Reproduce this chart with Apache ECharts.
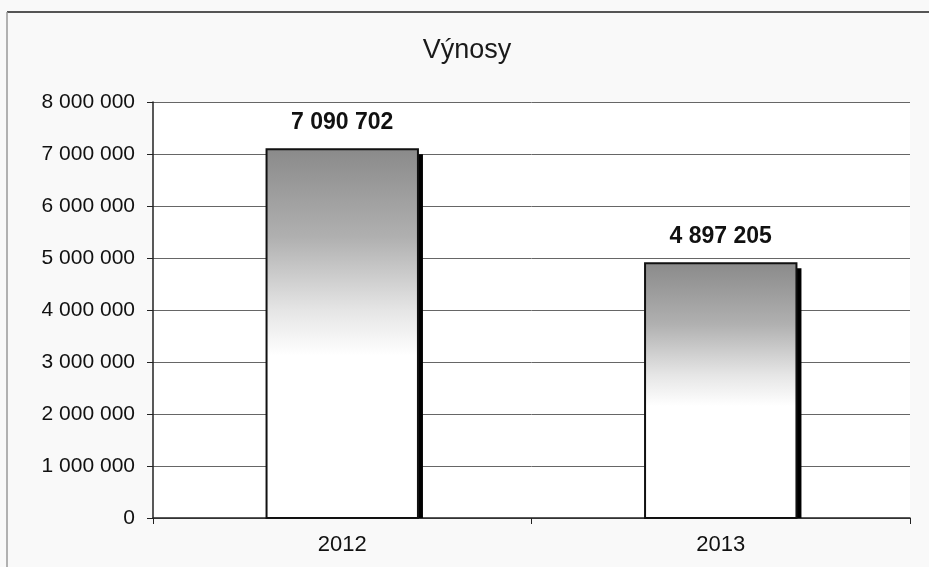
<!DOCTYPE html>
<html><head><meta charset="utf-8">
<script src="https://cdn.jsdelivr.net/npm/echarts@6/dist/echarts.min.js"></script>
<style>html,body{margin:0;padding:0;background:#f9f9f9}#c{width:929px;height:567px}</style>
</head><body><div id="c"></div>
<script>
const categories = ['2012', '2013'];
const values = [7090702, 4897205];
const yTicks = [0, 1000000, 2000000, 3000000, 4000000, 5000000, 6000000, 7000000, 8000000];

function fmt(v) { return String(v).replace(/\B(?=(\d{3})+(?!\d))/g, ' '); }

const font = 'Liberation Sans, Arial, sans-serif';
const chart = echarts.init(document.getElementById('c'), null, {renderer: 'canvas'});

function renderBar(params, api) {
  const cat = api.value(0), val = api.value(1);
  const top = api.coord([cat, val]);
  const base = api.coord([cat, 0]);
  const band = api.size([1, 0])[0];
  const w = band * 0.4;
  const x = top[0] - w / 2;
  const h = base[1] - top[1];
  return {
    type: 'group',
    children: [
      {type: 'rect', shape: {x: x + 5, y: top[1] + 5, width: w, height: h - 5}, style: {fill: '#000'}},
      {type: 'rect', shape: {x: x, y: top[1], width: w, height: h}, style: {
        fill: new echarts.graphic.LinearGradient(0, 0, 0, 1, [
          {offset: 0, color: '#8a8a8a'}, {offset: 0.24, color: '#b0b0b0'},
          {offset: 0.44, color: '#e6e6e6'}, {offset: 0.56, color: '#ffffff'}, {offset: 1, color: '#ffffff'}
        ]),
        stroke: '#111', lineWidth: 2
      }},
      {type: 'text', style: {
        text: fmt(val), x: top[0], y: top[1] - 15, align: 'center', verticalAlign: 'bottom',
        font: 'bold 23px ' + font, fill: '#111'
      }}
    ]
  };
}

chart.setOption({
  backgroundColor: '#f9f9f9',
  animation: false,
  title: {
    text: 'Výnosy', left: 462, top: 32, textAlign: 'center',
    textStyle: {fontFamily: font, fontSize: 27, fontWeight: 'normal', color: '#1a1a1a'}
  },
  graphic: [
    {type: 'rect', shape: {x: 153, y: 102, width: 757, height: 416}, style: {fill: '#ffffff'}, z: -10, silent: true},
    {type: 'line', shape: {x1: 7, y1: 12, x2: 929, y2: 12}, style: {stroke: '#555', lineWidth: 2}},
    {type: 'line', shape: {x1: 7, y1: 12, x2: 7, y2: 567}, style: {stroke: '#999', lineWidth: 1.5}}
  ],
  grid: {left: 153, right: 19, top: 102, bottom: 49},
  xAxis: {
    type: 'category', data: categories,
    axisLine: {lineStyle: {color: '#222', width: 1.5}},
    axisTick: {show: true, length: 6, lineStyle: {color: '#222'}},
    axisLabel: {fontFamily: font, fontSize: 22, color: '#111', margin: 16}
  },
  yAxis: {
    type: 'value', min: yTicks[0], max: yTicks[yTicks.length - 1], interval: yTicks[1] - yTicks[0],
    axisLine: {show: true, lineStyle: {color: '#222', width: 1.5}},
    axisTick: {show: true, length: 6, lineStyle: {color: '#222'}},
    splitLine: {lineStyle: {color: '#666', width: 1}},
    axisLabel: {fontFamily: font, fontSize: 21, color: '#111', margin: 18, formatter: fmt}
  },
  series: [{
    type: 'custom', renderItem: renderBar,
    data: values.map((v, i) => [i, v]),
    encode: {x: 0, y: 1}
  }]
});
</script></body></html>
